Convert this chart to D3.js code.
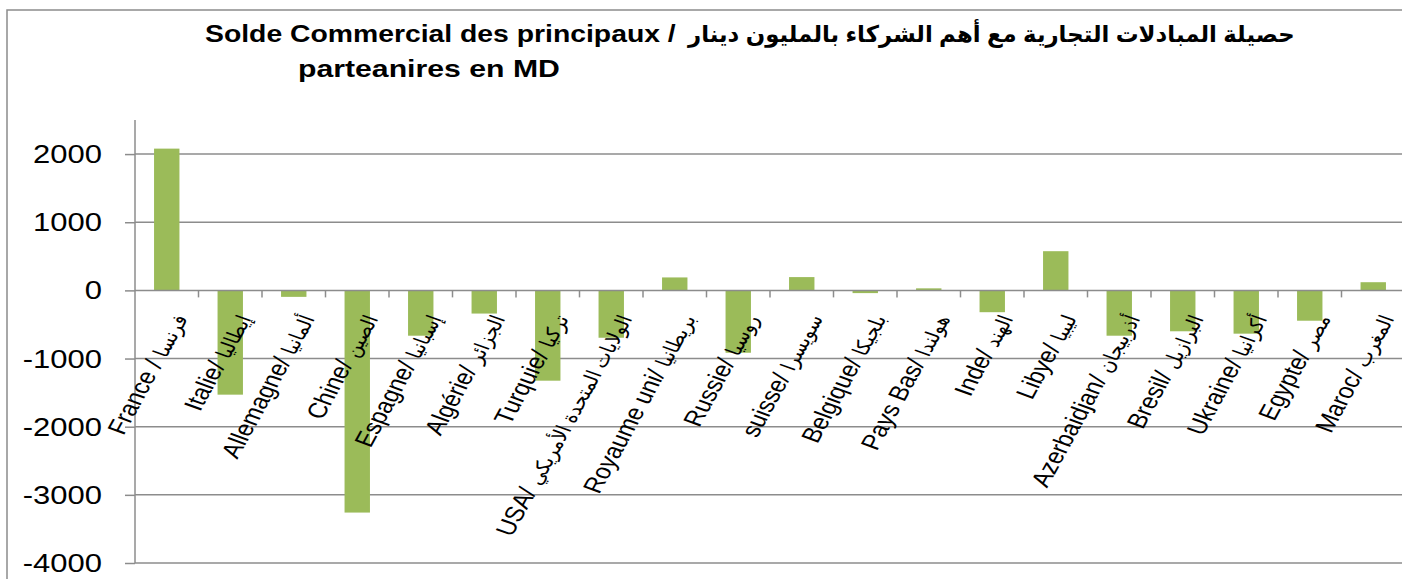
<!DOCTYPE html>
<html>
<head>
<meta charset="utf-8">
<script src="https://cdn.jsdelivr.net/npm/d3@7"></script>
<style>
  html, body { margin: 0; padding: 0; background: #fff; }
  svg { display: block; }
  text { font-family: "Liberation Sans", Arial, "DejaVu Sans", sans-serif; fill: #000; }
</style>
</head>
<body>
<svg id="chart" width="1402" height="579"></svg>
<script>
// ---- data ----
const categories = [
  "France / فرنسا",
  "Italie/ إيطاليا",
  "Allemagne/ ألمانيا",
  "Chine/ الصين",
  "Espagne/ إسبانيا",
  "Algérie/ الجزائر",
  "Turquie/ تركيا",
  "USA/ الولايات المتحدة الأمريكي",
  "Royaume uni/ بريطانيا",
  "Russie/ روسيا",
  "suisse/ سويسرا",
  "Belgique/ بلجيكا",
  "Pays Bas/ هولندا",
  "Inde/ الهند",
  "Libye/ ليبيا",
  "Azerbaidjan/ أذربيجان",
  "Bresil/ البرازيل",
  "Ukraine/ أكرانيا",
  "Egypte/ مصر",
  "Maroc/ المغرب"
];
const values = [2080, -1530, -95, -3260, -665, -340, -1325, -695, 190, -915, 195, -40, 30, -320, 575, -665, -600, -635, -445, 120];
const yTicks = [-4000, -3000, -2000, -1000, 0, 1000, 2000];
const yDomain = [-4000, 2500];
const titleLatin = "Solde Commercial des principaux /";
const titleArabic = "حصيلة المبادلات التجارية مع أهم الشركاء بالمليون دينار";
const titleLine2 = "parteanires en MD";

// ---- layout ----
const svg = d3.select("#chart");
const plot = { left: 135, right: 1405, top: 120, bottom: 563 };
const gridColor = "#8c8c8c";
const barColor = "#9bbb59";
const sx = 1.24; // horizontal stretch of the original picture

// chart border
svg.append("rect")
  .attr("x", 7).attr("y", 10).attr("width", 1420).attr("height", 600)
  .attr("fill", "none").attr("stroke", gridColor).attr("stroke-width", 1.5);

const x = d3.scaleBand().domain(categories).range([plot.left, plot.right])
  .paddingInner(0.6).paddingOuter(0.3);
const y = d3.scaleLinear().domain(yDomain).range([plot.bottom, plot.top]);

// y axis ticks
const yAxis = d3.axisLeft(y).tickValues(yTicks).tickSize(10).tickFormat("");
const gy = svg.append("g").attr("transform", `translate(${plot.left},0)`).call(yAxis);
gy.select(".domain").remove();
gy.selectAll(".tick line").attr("stroke", gridColor).attr("stroke-width", 1.5);

// gridlines
svg.append("g").selectAll("line.grid").data(yTicks.filter(d => d !== 0)).join("line")
  .attr("x1", plot.left).attr("x2", plot.right)
  .attr("y1", d => y(d)).attr("y2", d => y(d))
  .attr("stroke", gridColor).attr("stroke-width", 1.5);

// y tick labels (stretched)
svg.append("g").selectAll("text.ylab").data(yTicks).join("text")
  .attr("transform", d => `translate(102,${y(d)}) scale(${sx},1)`)
  .attr("text-anchor", "end").attr("dy", "0.36em")
  .style("font-size", "25px")
  .text(d => d);

// bars
svg.append("g").selectAll("rect.bar").data(values).join("rect")
  .attr("x", (d, i) => x(categories[i]))
  .attr("width", x.bandwidth())
  .attr("y", d => y(Math.max(0, d)))
  .attr("height", d => Math.abs(y(d) - y(0)))
  .attr("fill", barColor);

// y axis line
svg.append("line")
  .attr("x1", plot.left).attr("x2", plot.left)
  .attr("y1", plot.top).attr("y2", plot.bottom)
  .attr("stroke", gridColor).attr("stroke-width", 1.5);

// x axis (zero line) with tick marks at band boundaries
const boundaries = d3.range(1, categories.length).map(i => x(categories[i]) - (x.step() - x.bandwidth()) / 2);
svg.append("line")
  .attr("x1", plot.left).attr("x2", plot.right)
  .attr("y1", y(0)).attr("y2", y(0))
  .attr("stroke", gridColor).attr("stroke-width", 1.5);
svg.append("g").selectAll("line.xt").data(boundaries).join("line")
  .attr("x1", d => d).attr("x2", d => d)
  .attr("y1", y(0)).attr("y2", y(0) + 7)
  .attr("stroke", gridColor).attr("stroke-width", 1.5);

// category labels, rotated, end-anchored under each bar
const labels = svg.append("g").selectAll("text.xlab").data(categories).join("text")
  .attr("transform", d => `translate(${x(d) + x.bandwidth() / 2 + 13},${y(0) + 25}) scale(${sx},1) rotate(-66)`)
  .attr("text-anchor", "end").attr("dy", "0.35em")
  .style("font-size", "21.5px");
labels.each(function (d) {
  const k = d.indexOf("/");
  const latin = d.slice(0, k + 1) + " ";
  const arabic = d.slice(k + 1).trim();
  const t = d3.select(this);
  t.append("tspan").text(latin);
  t.append("tspan").style("font-size", "17.5px").text(arabic);
});

// title
function fitText(sel, x0, yb, width) {
  const w = sel.node().getComputedTextLength();
  sel.attr("transform", `translate(${x0},${yb}) scale(${width / w},1)`);
}
const t1 = svg.append("text").attr("x", 0).attr("y", 0)
  .style("font-size", "23px").style("font-weight", "bold").text(titleLatin);
fitText(t1, 205, 42, 471);
const t2 = svg.append("text").attr("x", 0).attr("y", 0)
  .style("font-size", "23px").style("font-weight", "bold").text(titleArabic);
fitText(t2, 688, 42, 607);
const t3 = svg.append("text").attr("x", 0).attr("y", 0)
  .style("font-size", "23px").style("font-weight", "bold").text(titleLine2);
fitText(t3, 298, 77, 262);
</script>
</body>
</html>
